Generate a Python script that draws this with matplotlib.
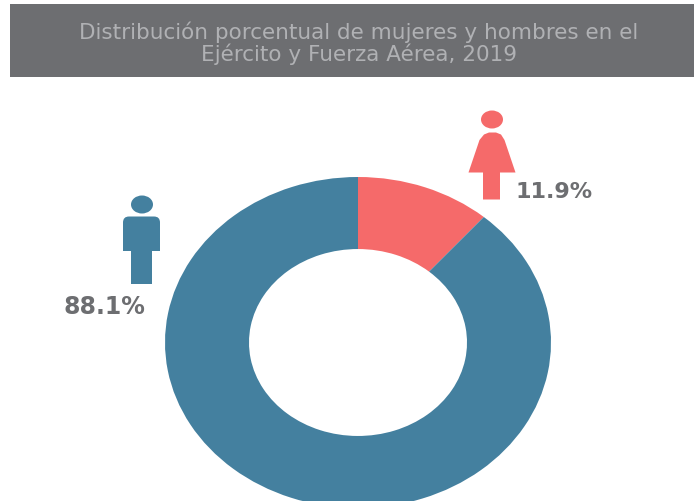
import matplotlib
matplotlib.use("Agg")
import matplotlib.pyplot as plt
from matplotlib.patches import Rectangle, Ellipse, Polygon, FancyBboxPatch

labels = ["11.9%", "88.1%"]
# shares as the slice is drawn in the picture, a bit narrower than its label
drawn_shares = [11.3, 88.7]
colors = ["#F56A6A", "#44809F"]
title = "Distribución porcentual de mujeres y hombres en el\nEjército y Fuerza Aérea, 2019"

W = 694
H = 502
GREY = "#6D6E71"

plt.rcParams['font.family'] = ['DejaVu Sans']

fig = plt.figure(figsize=(6.94, 5.02), dpi=100)
ax = fig.add_axes([0, 0, 1, 1])
ax.set_xlim(0, W)
ax.set_ylim(0, H)
ax.axis('off')

# the donut is squashed vertically and runs off the bottom, so it gets its own axes
ax2 = fig.add_axes([165 / W, (H - 509) / H, 386 / W, 331 / H])
ax2.pie(drawn_shares, colors=colors, startangle=90, counterclock=False, radius=1,
        wedgeprops=dict(width=84 / 193, linewidth=0))
ax2.set_xlim(-1, 1)
ax2.set_ylim(-1, 1)
ax2.set_aspect('auto')
ax2.axis('off')

# header
ax.add_patch(Rectangle((10.5, H - 78), W - 10.5, 73, fc=GREY, ec='none'))
ax.text(359, H - 43.5, title, color="#B0B1B4", fontsize=15.5, ha='center', va='center',
        linespacing=1.05)

# woman
ax.add_patch(Ellipse((492, H - 120.5), 22, 18, fc=colors[0], ec='none'))
ax.add_patch(Polygon([(479.5, H - 141), (484, H - 135.5), (489, H - 133.5), (496, H - 133.5),
                      (501, H - 135.5), (504.5, H - 141), (515.5, H - 173.5), (500, H - 173.5),
                      (500, H - 200.5), (483, H - 200.5), (483, H - 173.5), (468.5, H - 173.5)],
                     closed=True, fc=colors[0], ec='none'))

# man
ax.add_patch(Ellipse((142, H - 205.5), 22, 18, fc=colors[1], ec='none'))
ax.add_patch(FancyBboxPatch((127, H - 247.5), 29, 26, boxstyle="round,pad=4,rounding_size=6",
                            fc=colors[1], ec='none'))
ax.add_patch(Rectangle((123, H - 251.5), 37, 12, fc=colors[1], ec='none'))
ax.add_patch(Rectangle((131, H - 284.5), 21, 34, fc=colors[1], ec='none'))

# percentages
ax.text(554.5, H - 192, labels[0], color=GREY, fontsize=16, fontweight='bold',
        ha='center', va='center')
ax.text(104, H - 307, labels[1], color=GREY, fontsize=17, fontweight='bold',
        ha='center', va='center')

fig.savefig("out.png", dpi=100)
